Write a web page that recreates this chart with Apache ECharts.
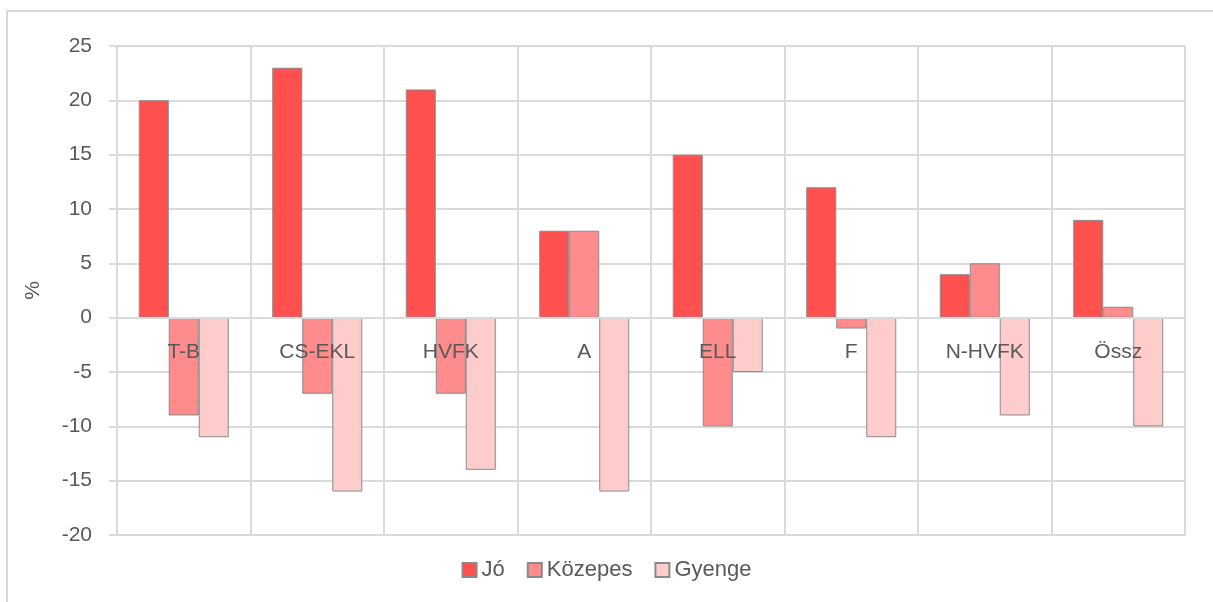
<!DOCTYPE html>
<html>
<head>
<meta charset="utf-8">
<script src="https://cdn.jsdelivr.net/npm/echarts@6/dist/echarts.min.js"></script>
<style>
  html, body { margin: 0; padding: 0; background: #fff; }
  #frame { position: absolute; left: 6px; top: 10px; width: 1220px; height: 600px;
           border-left: 2px solid #d9d9d9; border-top: 2px solid #d9d9d9; box-sizing: border-box; }
  #chart { position: absolute; left: 0; top: 0; width: 1213px; height: 602px; }
</style>
</head>
<body>
<div id="frame"></div>
<div id="chart"></div>
<script>
// Regions / groups shown along the horizontal axis
const categories = ['T-B', 'CS-EKL', 'HVFK', 'A', 'ELL', 'F', 'N-HVFK', 'Össz'];

// Percentages per rating group
const jo       = [20, 23, 21, 8, 15, 12, 4, 9];
const kozepes  = [-9, -7, -7, 8, -10, -1, 5, 1];
const gyenge   = [-11, -16, -14, -16, -5, -11, -9, -10];

// Value-axis range and step
const yMin = -20, yMax = 25, yStep = 5;

const textColor = '#595959';
const gridColor = '#dadada';
const font = 'Liberation Sans';

const chart = echarts.init(document.getElementById('chart'), null, { renderer: 'canvas' });

function barSeries(name, data, color) {
  return {
    name: name,
    type: 'bar',
    data: data,
    barWidth: 30,
    barGap: '0%',
    itemStyle: { color: color, borderColor: '#8a8a8a', borderWidth: 1 }
  };
}

chart.setOption({
  animation: false,
  textStyle: { fontFamily: font },
  grid: { left: 117, right: 28, top: 46, bottom: 67 },
  legend: {
    bottom: 16,
    left: 'center',
    icon: 'rect',
    itemWidth: 14,
    itemHeight: 14,
    itemGap: 22,
    textStyle: { fontSize: 22, color: textColor, fontFamily: font },
    data: ['Jó', 'Közepes', 'Gyenge']
  },
  xAxis: [
    {
      // boundaries between categories
      type: 'category',
      data: categories,
      boundaryGap: true,
      axisLine: { show: false },
      axisTick: { show: false },
      axisLabel: { show: false },
      splitLine: { show: true, lineStyle: { color: gridColor, width: 2 } }
    },
    {
      // the category axis itself, shifted up to the zero line and drawn
      // above the bars so the names stay readable
      type: 'category',
      data: categories,
      position: 'bottom',
      boundaryGap: true,
      z: 10,
      axisLine: { show: true, onZero: false, lineStyle: { color: gridColor, width: 2 } },
      axisTick: { show: false },
      axisLabel: { show: true, fontSize: 21, color: textColor, margin: 24, fontFamily: font, interval: 0 },
      splitLine: { show: false }
    }
  ],
  yAxis: {
    type: 'value',
    min: yMin,
    max: yMax,
    interval: yStep,
    name: '%',
    nameLocation: 'middle',
    nameRotate: 90,
    nameGap: 73,
    nameTextStyle: { fontSize: 21, color: textColor, fontFamily: font },
    axisLine: { show: true, lineStyle: { color: gridColor, width: 2 } },
    axisTick: { show: true, length: 8, lineStyle: { color: gridColor, width: 2 } },
    axisLabel: { fontSize: 21, color: textColor, margin: 25, fontFamily: font },
    splitLine: { show: true, lineStyle: { color: gridColor, width: 2 } }
  },
  series: [
    barSeries('Jó', jo, '#ff5050'),
    barSeries('Közepes', kozepes, '#ff8c8c'),
    barSeries('Gyenge', gyenge, '#ffcccc')
  ]
});

// place the category axis on the value axis' zero
const yZero = chart.convertToPixel({ yAxisIndex: 0 }, 0);
const yBottom = chart.convertToPixel({ yAxisIndex: 0 }, yMin);
chart.setOption({ xAxis: [{}, { offset: yZero - yBottom }] });
</script>
</body>
</html>
